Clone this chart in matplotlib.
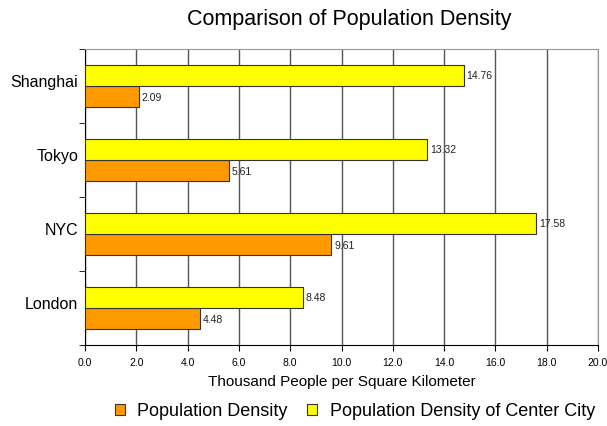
import numpy as np
import matplotlib.pyplot as plt
import matplotlib.transforms as mtransforms

plt.rcParams['font.family'] = ['Liberation Sans', 'DejaVu Sans']

cities = ["London", "NYC", "Tokyo", "Shanghai"]
density = [4.48, 9.61, 5.61, 2.09]
center_density = [8.48, 17.58, 13.32, 14.76]
x_ticks = np.arange(0, 20.1, 2.0)

fig = plt.figure(figsize=(6.07, 4.27), dpi=100)
ax = fig.add_axes([85 / 607, 1 - 346 / 427, (598 - 85) / 607, (346 - 50) / 427])

y = np.arange(len(cities))
h = 0.29
bars_d = ax.barh(y - h / 2, density, height=h, color="#FF9900",
                 edgecolor="#333333", linewidth=0.8, label="Population Density", zorder=3)
bars_c = ax.barh(y + h / 2, center_density, height=h, color="#FFFF00",
                 edgecolor="#333333", linewidth=0.8,
                 label="Population Density of Center City", zorder=3)

for bars, vals in ((bars_d, density), (bars_c, center_density)):
    for b, v in zip(bars, vals):
        ax.text(v + 0.12, b.get_y() + b.get_height() / 2, f"{v:.2f}",
                va="center", ha="left", fontsize=7.5, color="#222222")

ax.set_xlim(0, 20)
ax.set_ylim(-0.5, len(cities) - 0.5)
ax.set_xticks(x_ticks)
ax.set_xticklabels([f"{t:.1f}" for t in x_ticks], fontsize=7.5)
ax.xaxis.grid(True, color="#555555", linewidth=1.0, zorder=0)

# category labels near the centre, tick marks on the boundaries
ax.set_yticks(y)
ax.set_yticklabels(cities, fontsize=11.5)
ax.tick_params(axis="y", which="major", length=0, pad=5)
shift = mtransforms.ScaledTranslation(0, 6 / 100, fig.dpi_scale_trans)
for lbl in ax.get_yticklabels():
    lbl.set_transform(lbl.get_transform() + shift)
ax.set_yticks(np.arange(-0.5, len(cities), 1), minor=True)
ax.tick_params(axis="y", which="minor", length=4, direction="out", color="#000000")
ax.tick_params(axis="x", length=4, direction="out", pad=5)

ax.spines["left"].set_color("#000000")
ax.spines["bottom"].set_color("#000000")
ax.spines["top"].set_color("#999999")
ax.spines["right"].set_color("#999999")

ax.set_xlabel("Thousand People per Square Kilometer", fontsize=11, labelpad=5)
fig.text(349 / 607, 1 - 20 / 427, "Comparison of Population Density", ha="center",
         va="center", fontsize=15.5)

handles = [bars_d, bars_c]
fig.legend(handles, [hd.get_label() for hd in handles], loc="center",
           bbox_to_anchor=(355 / 607, 1 - 412 / 427), ncol=2, frameon=False,
           fontsize=13, handlelength=0.55, handleheight=0.55, handletextpad=0.7,
           columnspacing=1.1, borderpad=0)

fig.savefig("out.png", dpi=100)
